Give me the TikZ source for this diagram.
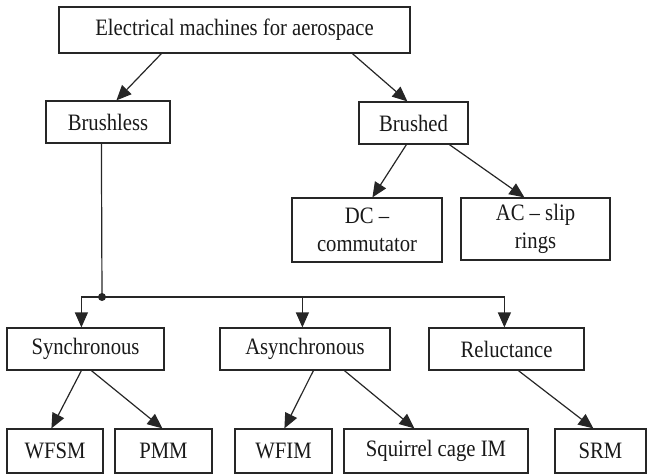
\documentclass[tikz,border=0pt]{standalone}
\usepackage{fontspec}
\setmainfont[FakeStretch=0.88]{Liberation Serif}
\usetikzlibrary{arrows.meta}
\begin{document}
\begin{tikzpicture}[x=1pt,y=-1pt,
  box/.style={draw=black!85,line width=1.2pt,inner sep=0pt,align=center,
    font=\fontsize{23.5}{28}\selectfont,text=black!90},
  conn/.style={line width=1.2pt,draw=black!85},
  arr/.style={conn,-{Triangle[length=15pt,width=13pt]}}]
\useasboundingbox (0,0) rectangle (647,475);
% boxes
\node[box,minimum width=351pt,minimum height=46pt] (top) at (234.5,30) {Electrical machines for aerospace};
\node[box,minimum width=124pt,minimum height=42pt] (brushless) at (108,122) {Brushless};
\node[box,minimum width=109pt,minimum height=42pt] (brushed) at (413.5,123) {Brushed};
\node[box,minimum width=150pt,minimum height=64pt] (dc) at (367,230) {DC --\\commutator};
\node[box,minimum width=149pt,minimum height=62pt] (ac) at (535.5,229) {AC -- slip\\rings};
\node[box,minimum width=157pt,minimum height=42pt] (sync) at (85.5,349) {Synchronous};
\node[box,minimum width=170pt,minimum height=42pt] (async) at (305,349) {Asynchronous};
\node[box,minimum width=155pt,minimum height=42pt] (rel) at (506.5,349) {Reluctance};
\node[box,minimum width=96pt,minimum height=44pt] (wfsm) at (55,451) {WFSM};
\node[box,minimum width=97pt,minimum height=44pt] (pmm) at (163.5,451) {PMM};
\node[box,minimum width=97pt,minimum height=44pt] (wfim) at (283.5,451) {WFIM};
\node[box,minimum width=184pt,minimum height=44pt] (sq) at (436,451) {Squirrel cage IM};
\node[box,minimum width=91pt,minimum height=44pt] (srm) at (600.5,451) {SRM};
% connectors
\draw[arr] ([xshift=103pt]top.south west) -- ([xshift=71pt]brushless.north west);
\draw[arr] ([xshift=294pt]top.south west) -- ([xshift=49pt]brushed.north west);
\draw[arr] ([xshift=48pt]brushed.south west) -- ([xshift=81pt]dc.north west);
\draw[arr] ([xshift=91pt]brushed.south west) -- ([xshift=64pt]ac.north west);
\coordinate (j) at (102,297);
\draw[conn] ([xshift=56pt]brushless.south west) -- (j);
\fill[black!85] (j) circle (4pt);
\draw[arr] (j) -| ([xshift=75pt]sync.north west);
\draw[arr] (j) -| ([xshift=83pt]async.north west);
\draw[arr] (j) -| ([xshift=76pt]rel.north west);
\draw[arr] ([xshift=75pt]sync.south west) -- ([xshift=45pt]wfsm.north west);
\draw[arr] ([xshift=85pt]sync.south west) -- ([xshift=48pt]pmm.north west);
\draw[arr] ([xshift=94pt]async.south west) -- ([xshift=50pt]wfim.north west);
\draw[arr] ([xshift=125pt]async.south west) -- ([xshift=71pt]sq.north west);
\draw[arr] ([xshift=90pt]rel.south west) -- ([xshift=39pt]srm.north west);
\end{tikzpicture}
\end{document}
